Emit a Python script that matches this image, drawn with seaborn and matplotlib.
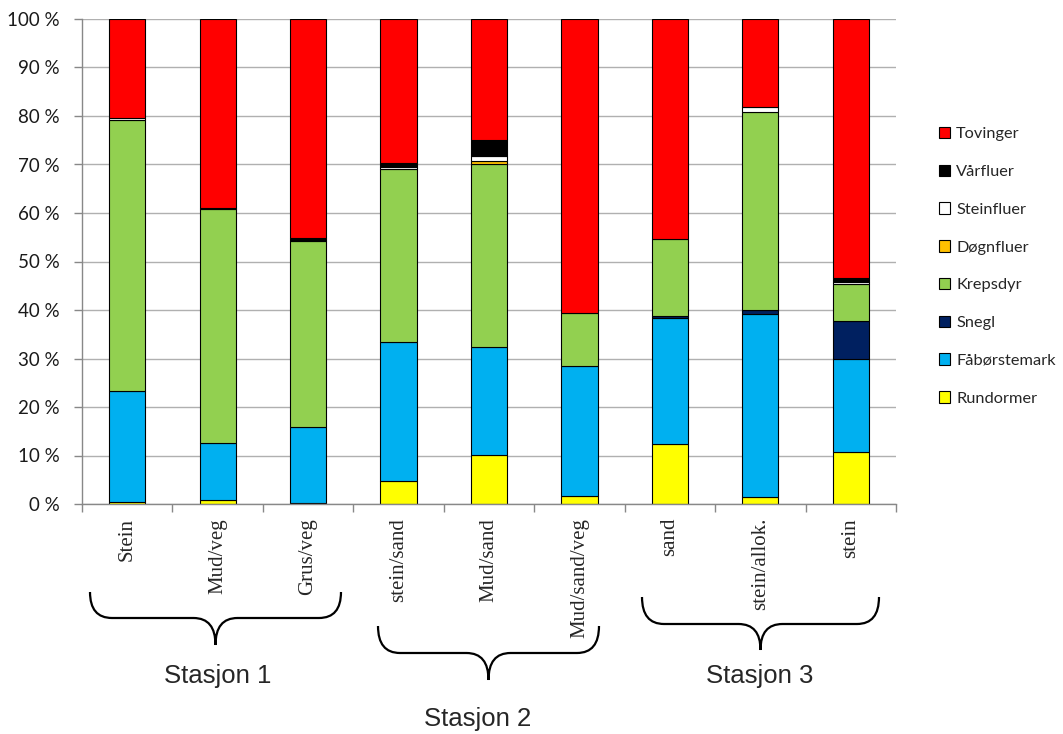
import matplotlib
matplotlib.use("Agg")
import matplotlib.pyplot as plt
from matplotlib.patches import Patch, PathPatch
from matplotlib.path import Path
import numpy as np
import pandas as pd
import seaborn as sns

#habitats along the x axis
habitats = ['Stein', 'Mud/veg', 'Grus/veg', 'stein/sand', 'Mud/sand', 'Mud/sand/veg',
            'sand', 'stein/allok.', 'stein']

#share (%) of each group per habitat
tovinger = [20.5, 39.0, 45.2, 29.6, 24.9, 60.6, 45.3, 18.1, 53.5]
varfluer = [0.0, 0.0, 0.5, 0.9, 3.4, 0.0, 0.0, 0.0, 0.7]
steinfluer = [0.3, 0.2, 0.0, 0.5, 1.0, 0.0, 0.0, 1.0, 0.4]
dognfluer = [0.0, 0.0, 0.0, 0.0, 0.5, 0.0, 0.0, 0.0, 0.0]
krepsdyr = [55.8, 48.3, 38.4, 35.5, 37.8, 10.9, 15.9, 40.8, 7.6]
snegl = [0.0, 0.0, 0.0, 0.0, 0.0, 0.0, 0.5, 0.9, 7.9]
faborstemark = [23.0, 11.7, 15.7, 28.7, 22.3, 26.8, 25.9, 37.7, 19.1]
rundormer = [0.4, 0.8, 0.2, 4.8, 10.1, 1.7, 12.4, 1.5, 10.8]

groups = ['Tovinger', 'Vårfluer', 'Steinfluer', 'Døgnfluer', 'Krepsdyr', 'Snegl',
          'Fåbørstemark', 'Rundormer']
series = [tovinger, varfluer, steinfluer, dognfluer, krepsdyr, snegl, faborstemark, rundormer]
colors = ['#FF0000', '#000000', '#FFFFFF', '#FFC000', '#92D050', '#002060', '#00B0F0', '#FFFF00']

stations = ['Stasjon 1', 'Stasjon 2', 'Stasjon 3']

#long table for seaborn
rows = []
for g, vals in zip(groups, series):
    for h, v in zip(habitats, vals):
        rows.append({'Habitat': h, 'Gruppe': g, 'Andel': v})
df = pd.DataFrame(rows)
df['Habitat'] = pd.Categorical(df['Habitat'], categories=habitats, ordered=True)

sns.set_style('white')
plt.rcParams['font.family'] = ['Lato', 'DejaVu Sans']

W, H = 1063, 734
fig = plt.figure(figsize=(W / 100, H / 100), dpi=100)
ax = fig.add_axes([82 / W, 1 - 504 / H, 814 / W, 485 / H])

sns.histplot(data=df, x='Habitat', weights='Andel', hue='Gruppe', hue_order=groups,
             multiple='stack', discrete=True, shrink=0.4, palette=colors,
             edgecolor='black', linewidth=0.8, alpha=1, legend=False, ax=ax)

#hide empty segments so they don't draw stray edge lines
for p in ax.patches:
    if p.get_height() <= 0:
        p.set_visible(False)

ax.set_xlim(-0.5, len(habitats) - 0.5)
ax.set_ylim(0, 100)
ax.set_xlabel('')
ax.set_ylabel('')

#y axis
ax.set_yticks(np.arange(0, 101, 10))
ax.set_yticklabels([f'{v} %' for v in range(0, 101, 10)], fontsize=13.5, color='#1a1a1a')
ax.yaxis.grid(True, color='#b0b0b0', linewidth=1)
ax.set_axisbelow(True)
ax.tick_params(axis='y', length=6, width=1, color='#888888', pad=10, left=True)

#x axis: labels at centres, tick marks between categories
ax.set_xticks(range(len(habitats)))
ax.set_xticklabels(habitats, rotation=90, family='Liberation Serif', fontsize=15,
                   va='top', ha='center')
ax.tick_params(axis='x', which='major', length=0, pad=10)
ax.set_xticks(np.arange(-0.5, len(habitats), 1), minor=True)
ax.tick_params(axis='x', which='minor', length=6, width=1, color='#888888', bottom=True)

for s in ['top', 'right']:
    ax.spines[s].set_visible(False)
for s in ['left', 'bottom']:
    ax.spines[s].set_color('#888888')
    ax.spines[s].set_linewidth(1)

#legend
handles = [Patch(facecolor=c, edgecolor='black', linewidth=0.8) for c in colors]
fig.legend(handles, groups, loc='upper left', bbox_to_anchor=(939 / W, 1 - 127 / H),
           frameon=False, fontsize=11.8, handlelength=0.7, handleheight=0.7,
           handletextpad=0.35, labelspacing=1.42, borderpad=0, borderaxespad=0)

#curly braces grouping the stations (figure pixel coords)
def brace(x0, x1, ytop, ymid, ytip):
    xc = (x0 + x1) / 2
    r = 22
    pts = [(x0, ytop), (x0, ymid), (x0 + r, ymid),
           (xc - r, ymid),
           (xc, ymid), (xc, ytip),
           (xc, ymid), (xc + r, ymid),
           (x1 - r, ymid),
           (x1, ymid), (x1, ytop)]
    codes = [Path.MOVETO, Path.CURVE3, Path.CURVE3,
             Path.LINETO,
             Path.CURVE3, Path.CURVE3,
             Path.CURVE3, Path.CURVE3,
             Path.LINETO,
             Path.CURVE3, Path.CURVE3]
    pts = [(x / W, 1 - y / H) for x, y in pts]
    fig.add_artist(PathPatch(Path(pts, codes), facecolor='none', edgecolor='black',
                             linewidth=1.6, transform=fig.transFigure))

brace(90, 341, 592, 618, 645)
brace(378, 599, 626, 653, 680)
brace(642, 879, 597, 624, 650)

label_pos = [(218, 676), (478, 719), (760, 676)]
for name, (x, y) in zip(stations, label_pos):
    fig.text(x / W, 1 - y / H, name, ha='center', va='center', fontsize=18.5,
             family='Liberation Sans')

fig.savefig('out.png', dpi=100)
